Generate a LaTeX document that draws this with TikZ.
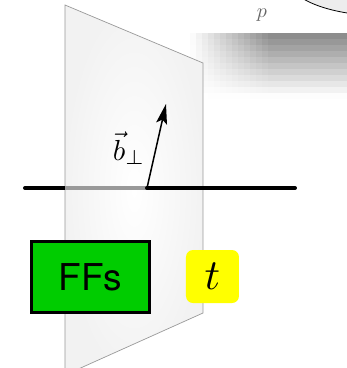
\documentclass[tikz,border=0pt]{standalone}
\usepackage{graphicx}
\usepackage{fontspec}
\setsansfont{TeX Gyre Heros}
\usetikzlibrary{arrows.meta}
\definecolor{ffgreen}{RGB}{0,204,0}
\definecolor{tyellow}{RGB}{255,255,0}
\tikzset{
  planestyle/.style={draw=black!40,line width=0.7pt,inner color=white,outer color=black!5},
  beam/.style={line width=4pt,line cap=round},
  ffbox/.style={draw=black,line width=3pt,fill=ffgreen,minimum width=118pt,minimum height=71pt,inner sep=0pt,font=\sffamily\fontsize{37}{37}\selectfont},
  tbox/.style={fill=tyellow,rounded corners=7pt,minimum width=53pt,minimum height=53pt,inner sep=0pt},
  bvec/.style={line width=1.5pt,-{Stealth[length=20pt,width=11pt,inset=4pt]}},
}
\begin{document}
\begin{tikzpicture}[x=1pt,y=-1pt]
\useasboundingbox (0,0) rectangle (347,368);
\clip (0,0) rectangle (347,368);
% shadow of the top-right panel (blocky blurred shadow)
\foreach \xx in {190,196,...,346} {
  \foreach \yy in {33,39,...,93} {
    \pgfmathsetmacro{\hx}{min(1,max(0,(\xx+3-190)/80))}
    \pgfmathsetmacro{\gy}{max(0,1-(\yy+3-33)/64)}
    \pgfmathsetmacro{\dd}{47*\hx*\gy}
    \fill[black!\dd] (\xx,\yy) rectangle ++(6.3,6.3);
  }
}
\fill[white] (203,0) rectangle (347,33);
\draw[line width=0.8pt,fill=black!7] (386,-20) ellipse [x radius=97,y radius=36];
\node[text=black!60] (p) at (262,15) {\scalebox{2}{$p$}};
% plane
\path[planestyle] (65,5) -- (203,63) -- (203,313) -- (65,375) -- cycle;
% beam line
\coordinate (l0) at (25,188);
\coordinate (l1) at (65,188);
\coordinate (o) at (147,188);
\coordinate (l2) at (295,188);
\draw[beam] (l0) -- (l1);
\draw[beam,line cap=butt,black!40] (l1) -- (o);
\draw[beam] (o) -- (l2);
\coordinate (tip) at (166,104);
\draw[bvec] (o) -- (tip);
\node (b) at (129,148) {\scalebox{2.9}{$\vec b_\perp$}};
% boxes
\node[ffbox] (ffs) at (90.5,277) {FFs};
\node[tbox] (t) at (212.5,276.5) {\scalebox{4.3}{$t$}};
\end{tikzpicture}
\end{document}
